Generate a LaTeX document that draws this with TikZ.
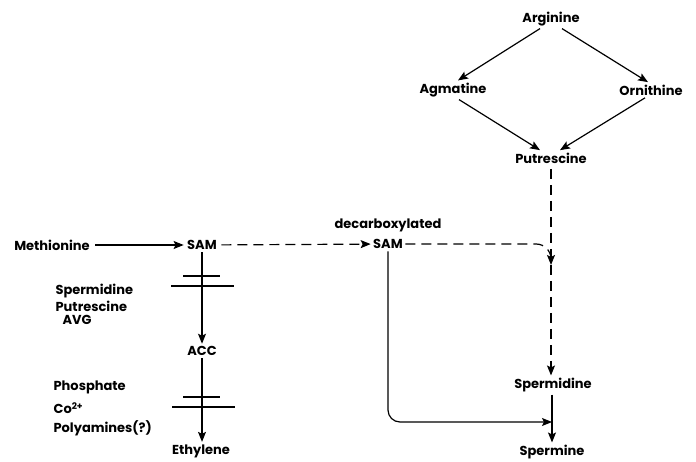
\documentclass[tikz,border=0pt]{standalone}
\usepackage{fontspec}
\setmainfont{Poppins}
\usetikzlibrary{arrows.meta}

\begin{document}
\begin{tikzpicture}[x=1pt,y=-1pt, line width=1.2pt,
    every node/.style={font=\bfseries\fontsize{13}{15}\selectfont, inner sep=2pt},
    tip/.style={-{Stealth[length=10pt,width=8pt,inset=2pt]}},
    dashline/.style={dash pattern=on 10pt off 6pt}]

    \useasboundingbox (0,0) rectangle (696,462);

    %===========================
    % Polyamine pathway
    %===========================
    \node (arg) at (551,19) {Arginine};
    \node (agm) at (453,90) {Agmatine};
    \node (orn) at (651,90) {Ornithine};
    \node (put) at (551,158) {Putrescine};
    \node (spd) at (553,385) {Spermidine};
    \node (spm) at (552,452) {Spermine};

    \draw[tip] ([xshift=-11pt]arg.south) to ([xshift=5pt]agm.north);
    \draw[tip] ([xshift=11pt]arg.south) to ([xshift=-3pt]orn.north);
    \draw[tip] ([xshift=6pt]agm.south) to ([xshift=-11pt]put.north);
    \draw[tip] ([xshift=-6pt]orn.south) to ([xshift=9pt]put.north);
    \draw[dashline, tip, shorten <=3pt] (put.south) to (put.south |- spd.north);
    \draw[tip] ([xshift=-1pt]spd.south) to ([xshift=-1pt]spd.south |- spm.north);

    %===========================
    % SAM
    %===========================
    \node (met) at (52,245) {Methionine};
    \node (sam) at (202,245) {SAM};
    \node (dlab) at (388,225) {decarboxylated};
    \node (dsam) at (388,244) {SAM};
    \coordinate (bend) at (551,265);
    \coordinate (join) at (552,422);

    \draw[tip, shorten <=3pt, shorten >=1pt] (met) to (sam);
    \draw[dashline, tip, shorten <=2pt] (sam) to (dsam);
    \draw[dashline, tip, rounded corners=15pt] (dsam.east) -| (bend);
    \draw[tip, rounded corners=12pt] (dsam.south) |- (join);

    %===========================
    % Ethylene
    %===========================
    \node (acc) at (202,351) {ACC};
    \node (eth) at (201,451) {Ethylene};
    \draw[tip] (sam.south) to (acc.north);
    \draw[tip] (acc.south) to ([xshift=1pt]eth.north);

    % Inhibitors
    \draw (183,276) -- (220,276);
    \draw (171,286) -- (234,286);
    \draw (183,397) -- (220,397);
    \draw (172,407) -- (235,407);

    \node[anchor=west] (i1) at (53,291) {Spermidine};
    \node[anchor=west] (i2) at (53,306) {Putrescine};
    \node[anchor=west] (i3) at (60,320) {AVG};
    \node[anchor=west] (i4) at (51,387) {Phosphate};
    \node[anchor=west] (i5) at (51,408) {Co\textsuperscript{2+}};
    \node[anchor=west] (i6) at (51,428) {Polyamines(?)};

\end{tikzpicture}
\end{document}
